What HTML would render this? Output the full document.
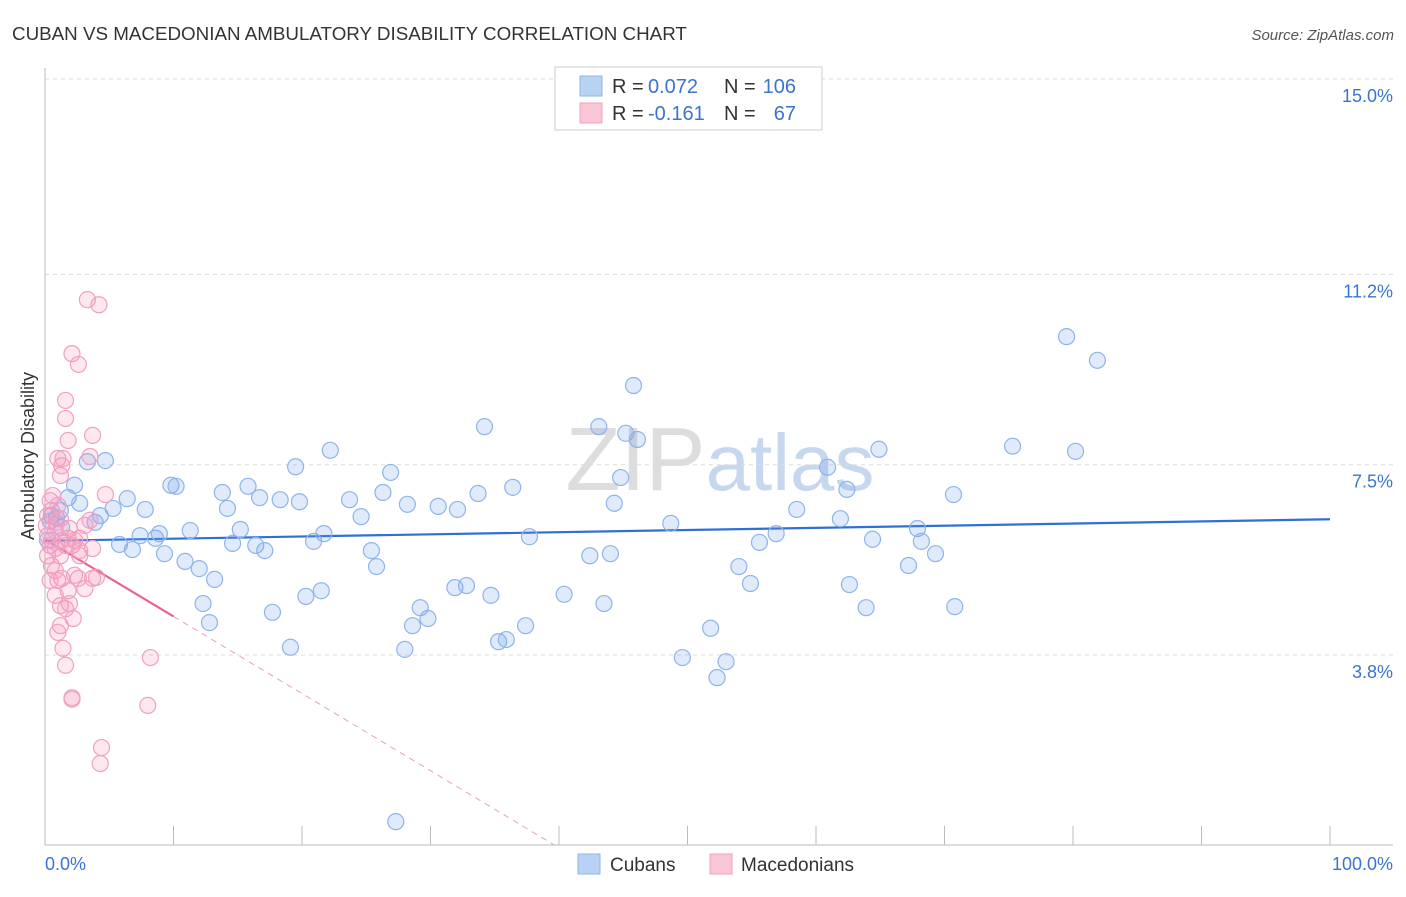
<!DOCTYPE html>
<html><head><meta charset="utf-8"><style>
body{margin:0;background:#fff;font-family:"Liberation Sans",sans-serif;}
svg text{font-family:"Liberation Sans",sans-serif;}
</style></head><body>
<svg id="chart" width="1406" height="892" xmlns="http://www.w3.org/2000/svg">
<text x="12" y="40" font-size="18.8" fill="#333">CUBAN VS MACEDONIAN AMBULATORY DISABILITY CORRELATION CHART</text>
<text x="1394" y="40" font-size="15" fill="#555" text-anchor="end" font-style="italic">Source: ZipAtlas.com</text>
<text x="720" y="490" font-size="90" fill="#ddd" text-anchor="middle" font-family="Liberation Serif">ZIP<tspan fill="#c6d8f0" font-family="Liberation Sans" font-size="80">atlas</tspan></text>
<text transform="translate(34,456) rotate(-90)" font-size="18" fill="#333" text-anchor="middle">Ambulatory Disability</text>
<g id="grid"></g><g id="axes"></g><g id="trend"></g><g id="points"></g>
<g>
<rect x="555" y="67" width="267" height="63" fill="#fff" stroke="#ccc"/>
<rect x="580" y="76" width="22" height="20" fill="#b8d2f4" stroke="#8fb4ea"/>
<rect x="580" y="103" width="22" height="20" fill="#f9c6d8" stroke="#f0a0c0"/>
<text x="612" y="93" font-size="20" fill="#333">R =</text>
<text x="648" y="93" font-size="20" fill="#3a74d0">0.072</text>
<text x="724" y="93" font-size="20" fill="#333">N =</text>
<text x="796" y="93" font-size="20" fill="#3a74d0" text-anchor="end">106</text>
<text x="612" y="120" font-size="20" fill="#333">R =</text>
<text x="648" y="120" font-size="20" fill="#3a74d0">-0.161</text>
<text x="724" y="120" font-size="20" fill="#333">N =</text>
<text x="796" y="120" font-size="20" fill="#3a74d0" text-anchor="end">67</text>
</g>
<g>
<rect x="578" y="854" width="22" height="20" fill="#b8d2f4" stroke="#8fb4ea"/>
<text x="610" y="871" font-size="19" fill="#333">Cubans</text>
<rect x="710" y="854" width="22" height="20" fill="#f9c6d8" stroke="#f0a0c0"/>
<text x="741" y="871" font-size="19" fill="#333">Macedonians</text>
</g>
</svg>
<script>
const yTicks=[3.8,7.5,11.2,15.0];
const yTickLabels=["3.8%","7.5%","11.2%","15.0%"];
const xTickLabels=["0.0%","100.0%"];
const cubanX=[1.8,2.3,3.3,4.7,3.9,2.7,1.2,1.3,4.3,5.3,6.4,5.8,6.8,7.8,7.4,8.6,8.9,9.3,9.8,10.2,10.9,11.3,12.0,12.3,12.8,13.2,13.8,14.2,14.6,15.2,15.8,16.4,16.7,17.1,17.7,18.3,19.1,19.5,19.8,20.3,20.9,21.5,21.7,22.2,23.7,24.6,25.4,25.8,26.3,26.9,27.3,28.0,28.2,28.6,29.2,29.8,30.6,31.9,32.1,32.8,33.7,34.2,34.7,35.3,35.9,36.4,37.4,37.7,40.4,42.4,43.1,43.5,44.0,44.3,44.8,45.2,45.8,46.1,48.7,51.8,52.3,53.0,49.6,54.0,54.9,55.6,56.9,58.5,60.9,61.9,62.4,62.6,63.9,64.4,64.9,67.2,67.9,68.2,69.3,70.7,70.8,75.3,79.5,80.2,81.9,0.9,0.5,0.4,0.2];
const cubanY=[6.86,7.10,7.56,7.58,6.38,6.75,6.61,6.28,6.51,6.65,6.84,5.95,5.85,6.63,6.12,6.07,6.16,5.77,7.10,7.08,5.62,6.22,5.48,4.80,4.43,5.27,6.96,6.65,5.97,6.24,7.08,5.93,6.86,5.83,4.63,6.82,3.95,7.46,6.78,4.94,6.01,5.05,6.16,7.78,6.82,6.49,5.83,5.52,6.96,7.35,0.56,3.91,6.73,4.37,4.72,4.51,6.69,5.11,6.63,5.15,6.94,8.24,4.96,4.06,4.10,7.06,4.37,6.10,4.98,5.73,8.24,4.80,5.77,6.75,7.25,8.11,9.04,7.99,6.36,4.32,3.36,3.67,3.75,5.52,5.19,5.99,6.16,6.63,7.45,6.45,7.02,5.17,4.72,6.05,7.80,5.54,6.26,6.01,5.77,6.92,4.74,7.86,9.99,7.76,9.53,6.47,6.51,6.40,6.03];
const macedX=[0.4,0.5,0.2,0.8,0.9,1.2,0.5,0.4,0.6,1.0,1.3,1.6,1.8,2.1,2.3,2.7,1.2,1.3,1.0,1.4,1.8,1.6,1.6,2.1,2.6,3.3,4.2,3.7,3.5,4.7,3.5,3.7,2.7,0.8,1.0,1.3,1.8,0.8,1.2,1.6,1.9,2.2,1.2,1.0,1.4,1.6,2.1,2.1,4.4,4.3,8.2,8.0,2.7,3.1,3.7,4.0,2.6,0.4,0.2,0.5,0.8,0.1,0.2,1.9,3.1,2.3,1.2];
const macedY=[5.93,6.03,6.12,6.22,6.38,6.45,6.61,6.80,6.90,6.71,6.03,5.93,6.07,5.93,6.03,5.83,7.29,7.48,7.62,7.62,7.97,8.40,8.75,9.66,9.45,10.71,10.61,8.07,7.66,6.92,6.42,5.87,6.07,5.44,5.25,5.29,5.05,4.96,4.76,4.70,4.80,4.51,4.37,4.24,3.93,3.60,2.97,2.94,2.00,1.69,3.75,2.82,5.73,5.09,5.29,5.31,5.29,5.25,5.73,5.54,5.87,6.32,6.51,6.26,6.32,5.35,5.73];
const cubanTrend=[6.02,6.44]; // value at 0% and 100%
const macedTrend=[6.05,-0.15]; // intercept, slope per %
const NS="http://www.w3.org/2000/svg";
const X0=45,X1=1330,Y38=655,PPU=51.43;
const sx=v=>X0+(X1-X0)*v/100;
const sy=v=>Y38-(v-3.8)*PPU;
function mk(tag,attrs,parent){const e=document.createElementNS(NS,tag);for(const k in attrs)e.setAttribute(k,attrs[k]);document.getElementById(parent).appendChild(e);return e;}
yTicks.forEach((t,i)=>{
 const g=mk('line',{x1:X0,x2:1393,y1:sy(t),y2:sy(t),stroke:'#ddd','stroke-dasharray':'4,4'},'grid');
 
 
 const l=mk('text',{x:1393,y:sy(t)+23,'font-size':18,fill:'#3a74d0','text-anchor':'end'},'grid');
 l.textContent=yTickLabels[i];
 
 
});
const ax=mk('line',{x1:X0,x2:X0,y1:68,y2:845,stroke:'#bbb'},'axes');


const bx=mk('line',{x1:X0,x2:1393,y1:845,y2:845,stroke:'#bbb'},'axes');


for(let i=0;i<=10;i++){
 const t=mk('line',{x1:sx(i*10),x2:sx(i*10),y1:826,y2:845,stroke:'#bbb'},'axes');
 
 
}
[[0,'start',45],[100,'end',1393]].forEach((d,i)=>{
 const t=mk('text',{x:d[2],y:870,'font-size':18,fill:'#3a74d0','text-anchor':d[1]},'axes');
 t.textContent=xTickLabels[i];
 
 
});
const bt=mk('line',{x1:sx(0),y1:sy(cubanTrend[0]),x2:sx(100),y2:sy(cubanTrend[1]),stroke:'#2f6fd6','stroke-width':2.2},'trend');


const pv=x=>macedTrend[0]+macedTrend[1]*x;
const pt=mk('line',{x1:sx(0),y1:sy(pv(0)),x2:sx(10),y2:sy(pv(10)),stroke:'#e8628f','stroke-width':2.2},'trend');


const yBottom=3.8-(845-Y38)/PPU;
const xEnd=(yBottom-macedTrend[0])/macedTrend[1];
const pd=mk('line',{x1:sx(10),y1:sy(pv(10)),x2:sx(xEnd),y2:sy(pv(xEnd)),stroke:'#eaa0b8','stroke-width':1,'stroke-dasharray':'6,5'},'trend');


cubanX.forEach((x,i)=>{
 const c=mk('circle',{cx:sx(x),cy:sy(cubanY[i]),r:8,fill:'rgba(110,160,235,0.22)',stroke:'#8fb4ea','stroke-width':1.2},'points');
 
 
});
macedX.forEach((x,i)=>{
 const c=mk('circle',{cx:sx(x),cy:sy(macedY[i]),r:8,fill:'rgba(245,150,185,0.22)',stroke:'#f0a0c0','stroke-width':1.2},'points');
 
 
});
</script>
</body></html>
